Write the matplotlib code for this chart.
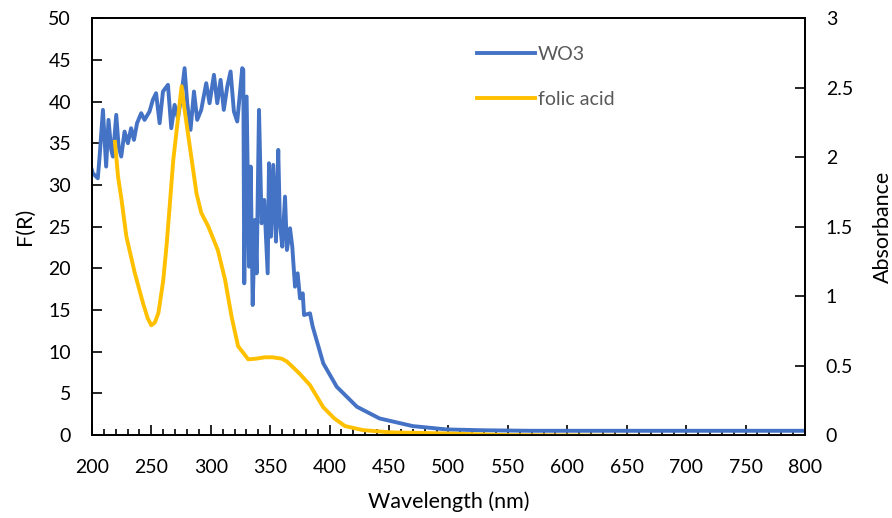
import matplotlib
matplotlib.use("Agg")
import matplotlib.pyplot as plt
from matplotlib.ticker import MultipleLocator

plt.rcParams["font.family"] = ["Lato", "DejaVu Sans"]

# WO3 diffuse reflectance, F(R)
wo3_wl = [200, 200.8, 205, 206.5, 209.3, 212, 214, 216.3, 217.7, 220.5, 222.5, 224.7,
          227.5, 230.3, 233, 235.4, 238, 241.5, 244.3, 248.5, 251.3, 254, 257, 259.8,
          264, 266.8, 269.6, 272.4, 275.2, 278, 280.2, 283, 285.9, 288.6, 292, 296.2,
          299, 302.7, 305.5, 308.3, 311, 313.9, 316.7, 319.5, 322.3, 324.3, 326.5,
          327.4, 328.2, 330.2, 332.2, 333.6, 335.3, 337.2, 338.6, 340.6, 342.8, 345,
          347.9, 349, 350.7, 352.6, 354.9, 356.8, 358.2, 360.2, 362.5, 364.1, 366.7,
          368.6, 370.9, 373.1, 375.1, 377.4, 378.5, 383.5, 385.8, 394.7, 406, 423,
          442, 470, 498.6, 530, 568.7, 650, 700, 800]
wo3_fr = [31.8, 31.4, 30.8, 33.4, 39.0, 32.2, 37.8, 34.2, 33.4, 38.4, 34.6, 33.4,
          36.4, 35.0, 36.8, 35.4, 37.4, 38.6, 37.8, 38.8, 40.2, 41.0, 37.4, 41.2,
          42.0, 36.8, 39.6, 38.0, 40.6, 44.0, 39.8, 36.6, 41.2, 37.8, 39.0, 42.2,
          39.8, 43.2, 39.8, 42.6, 39.0, 41.8, 43.6, 38.8, 37.6, 40.6, 44.0,
          43.8, 18.2, 40.6, 20.2, 32.2, 15.6, 25.8, 19.4, 39.0, 25.4, 28.2,
          19.4, 32.6, 23.8, 32.4, 23.2, 34.2, 25.4, 22.6, 28.6, 22.2, 24.8,
          22.6, 17.8, 19.4, 16.4, 17.0, 14.4, 14.6, 13.0, 8.6, 5.8, 3.4,
          2.0, 1.08, 0.68, 0.58, 0.52, 0.52, 0.52, 0.52]

# folic acid absorbance
fa_wl = [219.4, 222, 225, 229, 236, 243, 247, 250, 253, 256, 260, 263, 268.5, 272.6,
         275.5, 278, 284, 288, 292, 298, 306, 312, 317.6, 323, 331.6, 338, 345.6, 352,
         359.7, 364, 369, 375, 383.5, 394.7, 404, 413, 428, 451, 498.6, 550, 650, 800]
fa_abs = [2.11, 1.86, 1.69, 1.43, 1.17, 0.95, 0.84, 0.79, 0.81, 0.88, 1.11, 1.38,
          1.98, 2.29, 2.51, 2.34, 1.98, 1.74, 1.60, 1.50, 1.33, 1.12, 0.85, 0.64,
          0.545, 0.55, 0.56, 0.56, 0.55, 0.53, 0.49, 0.44, 0.36, 0.20, 0.12, 0.065,
          0.036, 0.02, 0.012, 0.0, -0.005, -0.01]

BLUE = "#4472C4"
GOLD = "#FFC000"

fig = plt.figure(figsize=(8.92, 5.18), dpi=100)
ax = fig.add_axes([0.103, 0.160, 0.7995, 0.805])
ax2 = ax.twinx()

l1, = ax.plot(wo3_wl, wo3_fr, color=BLUE, lw=2.8, label="WO3", solid_joinstyle="round")
l2, = ax2.plot(fa_wl, fa_abs, color=GOLD, lw=2.8, label="folic acid",
               solid_joinstyle="round")

ax.set_xlim(200, 800)
ax.set_ylim(0, 50)
ax2.set_ylim(0, 3)
ax.xaxis.set_major_locator(MultipleLocator(50))
ax.xaxis.set_minor_locator(MultipleLocator(10))
ax.yaxis.set_major_locator(MultipleLocator(5))
ax2.yaxis.set_major_locator(MultipleLocator(0.5))
ax2.yaxis.set_major_formatter(plt.FuncFormatter(lambda v, p: f"{v:g}"))

ax.tick_params(axis="x", which="major", direction="in", length=7, width=1.2, pad=17, labelsize=14)
ax.tick_params(axis="x", which="minor", direction="in", length=4, width=1.2)
ax.tick_params(axis="y", direction="in", length=7, width=1.2, pad=15, labelsize=14)
ax2.tick_params(axis="y", direction="in", length=7, width=1.2, pad=15, labelsize=14)

for a in (ax, ax2):
    for s in a.spines.values():
        s.set_linewidth(1.3)
        s.set_color("black")

ax.set_xlabel("Wavelength (nm)", fontsize=15.5, labelpad=11)
ax.set_ylabel("F(R)", fontsize=15.5, labelpad=10)
ax2.set_ylabel("Absorbance", fontsize=15.5, labelpad=14)

leg = ax2.legend(handles=[l1, l2], loc="upper left", bbox_to_anchor=(0.515, 0.975),
                 frameon=False, fontsize=14, handlelength=3.0, handletextpad=0.15,
                 labelspacing=1.45, labelcolor="#595959")

fig.savefig("out.png", dpi=100)
